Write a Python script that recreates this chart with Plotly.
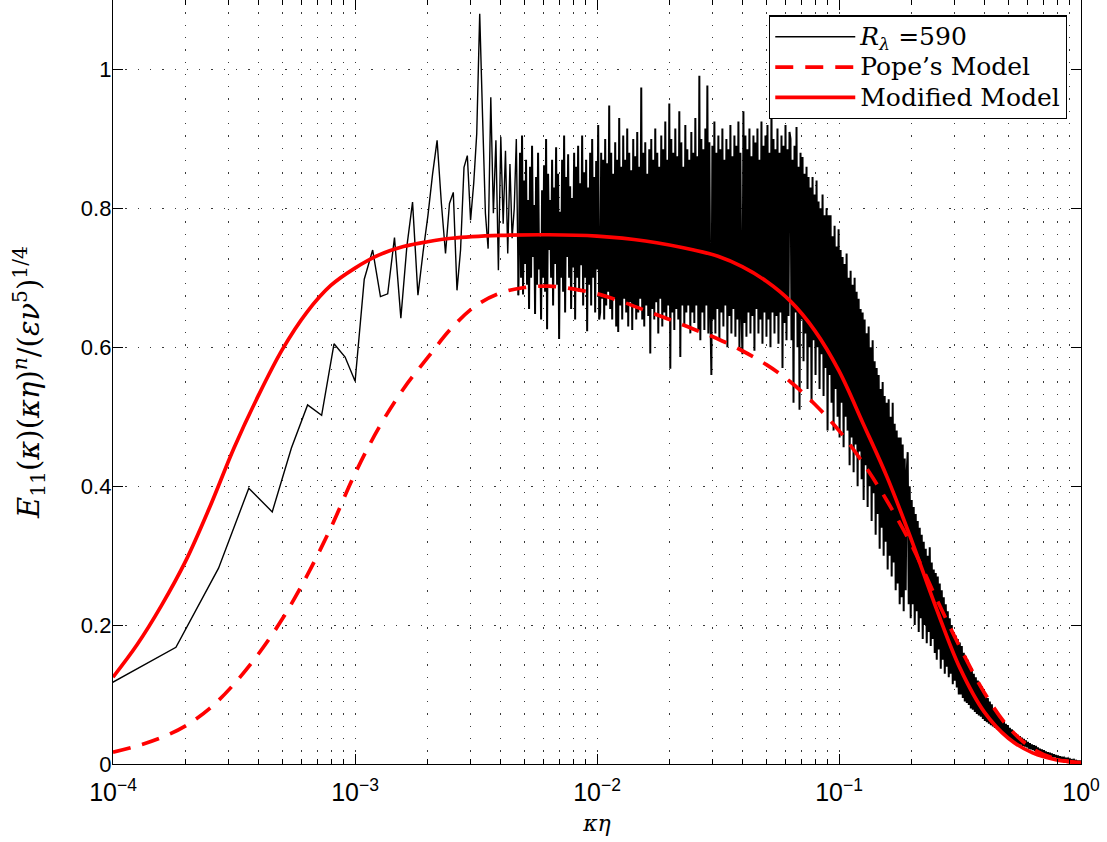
import numpy as np
import plotly.graph_objects as go

# ---------------------------------------------------------------------------
# Compensated longitudinal spectrum E11(k)(k eta)^n / (eps nu^5)^(1/4)
# ---------------------------------------------------------------------------

# DNS spectrum at R_lambda = 590: individually resolved low modes k = 1..52,
# wavenumber grid spacing in units of kappa*eta
DK_ETA = 0.91e-4
low_mode_values = [
    0.110, 0.168, 0.282, 0.397, 0.363, 0.455, 0.517, 0.502, 0.605, 0.586,
    0.551, 0.698, 0.740, 0.673, 0.677, 0.758, 0.642, 0.745, 0.809, 0.675,
    0.737, 0.790, 0.850, 0.898, 0.807, 0.735, 0.807, 0.823, 0.682, 0.740,
    0.859, 0.876, 0.783, 0.836, 0.908, 1.080, 0.931, 0.793, 0.742, 0.960,
    0.793, 0.898, 0.711, 0.903, 0.778, 0.883, 0.735, 0.864, 0.757, 0.800,
    0.900, 0.675,
]

# Higher wavenumbers, resampled on a logarithmic kappa*eta grid
# from 10^DENSE_LOG_START up to 1 (values in thousandths)
DENSE_LOG_START = -2.318
dense_values_milli = [
    # 4.8e-3 .. 1.0e-2
    880, 700, 905, 676, 840, 720, 870, 690, 812, 655,
    860, 700, 890, 730, 805, 648, 845, 690, 880, 712,
    760, 640, 826, 700, 862, 680, 900, 626, 850, 740,
    812, 700, 870, 660, 830, 720, 888, 690, 850, 612,
    795, 700, 870, 680, 905, 650, 845, 730, 878, 700,
    832, 655, 815, 715, 880, 640, 860, 700, 890, 680,
    836, 718, 905, 660, 852, 700, 870, 623, 830, 690,
    880, 660, 900, 700, 845, 650, 868, 712, 920, 640,
    # 1.0e-2 .. 2.6e-2
    650, 880, 670, 870, 640, 900, 660, 865, 680, 948,
    655, 880, 640, 850, 670, 895, 630, 870, 622, 930,
    660, 860, 640, 905, 670, 870, 650, 915, 630, 880,
    665, 855, 625, 900, 660, 875, 640, 910, 650, 860,
    670, 974, 640, 880, 630, 895, 660, 850, 645, 885,
    591, 900, 655, 870, 640, 915, 665, 880, 620, 860,
    670, 905, 630, 885, 650, 925, 640, 870, 660, 951,
    569, 900, 650, 880, 625, 915, 655, 875, 640, 940,
    586, 895, 660, 860, 630, 920, 650, 885, 660, 870,
    620, 910, 650, 880, 635, 930, 660, 875, 625, 991,
    # 2.6e-2 .. 6.2e-2
    610, 900, 650, 885, 625, 915, 660, 977, 620, 895,
    650, 560, 890, 640, 925, 620, 880, 655, 905, 610,
    885, 650, 915, 630, 870, 660, 900, 600, 885, 645,
    920, 620, 875, 655, 905, 615, 890, 640, 925, 600,
    880, 650, 590, 940, 635, 905, 615, 885, 650, 915,
    620, 875, 645, 905, 595, 895, 655, 915, 620, 870,
    640, 925, 605, 890, 650, 905, 615, 920, 640, 880,
    600, 945, 650, 900, 620, 885, 645, 915, 605, 880,
    650, 905, 570, 890, 635, 920, 610, 885, 645, 910,
    # 6.2e-2 .. 9.2e-2
    900, 610, 870, 520, 890, 650, 917, 600, 860, 510,
    880, 640, 874, 580, 850, 620, 860, 540, 845, 600,
    830, 520, 845, 610, 820, 560, 840, 600, 810, 540,
    800, 590, 820, 530, 790, 570, 800, 480, 790, 560,
    # 9.2e-2 .. 0.18
    790, 520, 760, 480, 775, 540, 745, 500, 770, 470,
    740, 520, 730, 456, 720, 500, 735, 480, 700, 430,
    710, 470, 690, 420, 700, 460, 680, 400, 670, 450,
    655, 410, 650, 380, 640, 430, 620, 370, 630, 400,
    600, 350, 610, 390, 580, 330, 570, 360, 560, 310,
    540, 340, 550, 300, 530, 320, 520, 280, 525, 300,
    500, 270, 520, 290, 490, 250, 480, 260, 470, 230,
    # 0.18 .. 0.32
    470, 240, 460, 220, 440, 250, 420, 449, 230, 400,
    210, 380, 230, 370, 200, 360, 220, 350, 190, 340,
    210, 330, 180, 320, 200, 310, 174, 300, 190, 312,
    170, 290, 180, 280, 160, 275, 150, 270, 165, 260,
    137, 250, 150, 240, 130, 230, 140, 220, 125, 210,
    130, 200, 115, 190, 120, 185, 110, 180, 100, 175,
    # 0.32 .. 1
    100, 170, 95, 160, 90, 155, 88, 150, 85, 140,
    80, 138, 78, 130, 75, 125, 72, 120, 70, 115,
    68, 112, 65, 108, 62, 100, 60, 95, 58, 90,
    56, 86, 54, 80, 52, 76, 50, 72, 48, 70,
    46, 66, 44, 62, 42, 58, 40, 56, 38, 52,
    36, 50, 34, 46, 32, 44, 30, 42, 29, 40,
    28, 38, 26, 36, 25, 34, 24, 32, 22, 30,
    21, 28, 20, 27, 19, 26, 18, 24, 17, 22,
    16, 21, 15, 20, 14, 18, 13, 17, 12, 16,
    11, 15, 10, 14, 10, 13, 9, 12, 8, 11,
    7, 10, 7, 9, 6, 8, 6, 8, 5, 7,
    5, 6, 4, 6, 4, 5, 3, 4, 3, 4, 3,
]

# Pope's model spectrum (log10 of kappa*eta, compensated value)
pope_log10_keta = [
    -4.0, -3.9, -3.8, -3.7, -3.6, -3.5, -3.4, -3.3, -3.2, -3.1,
    -3.0, -2.9, -2.8, -2.7, -2.6, -2.5, -2.4, -2.3, -2.2, -2.1,
    -2.0, -1.9, -1.8, -1.7, -1.6, -1.5, -1.4, -1.3, -1.2, -1.1,
    -1.0, -0.9, -0.8, -0.7, -0.6, -0.5, -0.4, -0.3, -0.2, -0.1,
    0.0,
]
pope_values = [
    0.017, 0.026, 0.038, 0.055, 0.080, 0.115, 0.158, 0.209, 0.270, 0.340,
    0.418, 0.485, 0.540, 0.585, 0.628, 0.660, 0.678, 0.686, 0.688, 0.684,
    0.677, 0.666, 0.653, 0.640, 0.626, 0.612, 0.595, 0.575, 0.550, 0.518,
    0.480, 0.433, 0.378, 0.315, 0.240, 0.168, 0.103, 0.053, 0.022, 0.007,
    0.001,
]

# Modified model spectrum
mod_log10_keta = [
    -4.0, -3.9, -3.8, -3.7, -3.6, -3.5, -3.4, -3.3, -3.2, -3.1,
    -3.0, -2.9, -2.8, -2.7, -2.6, -2.4, -2.2, -2.0, -1.8, -1.6,
    -1.5, -1.4, -1.3, -1.2, -1.1, -1.0, -0.9, -0.8, -0.7, -0.6,
    -0.5, -0.4, -0.3, -0.2, -0.1, 0.0,
]
mod_values = [
    0.125, 0.172, 0.228, 0.292, 0.370, 0.455, 0.530, 0.597, 0.650, 0.689,
    0.714, 0.733, 0.745, 0.752, 0.757, 0.761, 0.762, 0.760, 0.753, 0.740,
    0.731, 0.716, 0.695, 0.666, 0.624, 0.566, 0.490, 0.412, 0.322, 0.226,
    0.138, 0.075, 0.037, 0.016, 0.006, 0.002,
]

# Axis ticks
x_major = [1e-4, 1e-3, 1e-2, 1e-1, 1.0]
x_major_text = ["10<sup>\u22124</sup>", "10<sup>\u22123</sup>", "10<sup>\u22122</sup>",
                "10<sup>\u22121</sup>", "10<sup>0</sup>"]
x_minor = [m * d for d in (1e-4, 1e-3, 1e-2, 1e-1) for m in range(2, 10)]
y_major = [0, 0.2, 0.4, 0.6, 0.8, 1.0]
y_major_text = ["0", "0.2", "0.4", "0.6", "0.8", "1"]

# ---------------------------------------------------------------------------
low_x = np.arange(1, len(low_mode_values) + 1) * DK_ETA
low_y = np.array(low_mode_values)
# dense part starts from the last resolved mode so the curve stays connected
dense_x = np.concatenate([low_x[-1:], np.logspace(DENSE_LOG_START, 0.0, len(dense_values_milli))])
dense_y = np.concatenate([low_y[-1:], np.array(dense_values_milli) / 1000.0])

SERIF = "DejaVu Serif"
SANS = "Liberation Sans"
GRID = dict(gridcolor="#3a3a3a", gridwidth=1.3, griddash="1.3px,11px")


def legend_label(text):
    return '<span style="font-size:25px">' + text + "</span>"


fig = go.Figure()
fig.add_trace(go.Scatter(
    x=low_x, y=low_y, mode="lines", legendgroup="dns",
    name=legend_label("<i>R</i><sub><i>\u03bb</i></sub> =590"),
    line=dict(color="black", width=1.4, simplify=False),
))
fig.add_trace(go.Scatter(
    x=dense_x, y=dense_y, mode="lines", legendgroup="dns", showlegend=False,
    name="R_lambda = 590 (dense)",
    line=dict(color="black", width=2.0, simplify=False),
))
fig.add_trace(go.Scatter(
    x=10 ** np.array(pope_log10_keta), y=pope_values, mode="lines",
    name=legend_label("Pope\u2019s Model"),
    line=dict(color="#ff0000", width=3.7, dash="18px,12px", shape="spline"),
))
fig.add_trace(go.Scatter(
    x=10 ** np.array(mod_log10_keta), y=mod_values, mode="lines",
    name=legend_label("Modified Model"),
    line=dict(color="#ff0000", width=3.7, shape="spline"),
))

fig.update_xaxes(
    type="log", range=[-4, 0],
    tickmode="array", tickvals=x_major, ticktext=x_major_text,
    ticks="inside", ticklen=10, tickwidth=1, tickcolor="black",
    showline=True, linecolor="black", linewidth=1.3, mirror="allticks",
    showgrid=True, **GRID,
    minor=dict(tickmode="array", tickvals=x_minor, ticks="inside", ticklen=5,
               tickcolor="black", showgrid=True, **GRID),
    tickfont=dict(family=SANS, size=25, color="black"),
    ticklabelstandoff=6,
    title=dict(text="<i>\u03ba\u03b7</i>", font=dict(family=SERIF, size=22, color="black"),
               standoff=10),
    zeroline=False,
)
fig.update_yaxes(
    range=[0, 1.1],
    tickmode="array", tickvals=y_major, ticktext=y_major_text,
    ticks="inside", ticklen=10, tickwidth=1, tickcolor="black",
    showline=True, linecolor="black", linewidth=1.3, mirror="allticks",
    showgrid=True, **GRID,
    tickfont=dict(family=SANS, size=22, color="black"),
    ticklabelstandoff=-4,
    title=dict(
        text="<i>E</i><sub>11</sub>(<i>\u03ba</i>)(<i>\u03ba\u03b7</i>)<sup><i>n</i></sup>"
             "/(<i>\u03b5\u03bd</i><sup>5</sup>)<sup>1/4</sup>",
        font=dict(family=SERIF, size=29, color="black"), standoff=32),
    zeroline=False,
)

fig.update_layout(
    width=1107, height=842,
    margin=dict(l=113, r=26, t=0, b=78),
    paper_bgcolor="white", plot_bgcolor="white",
    showlegend=True,
    legend=dict(
        x=0.9855, y=0.98, xanchor="right", yanchor="top",
        bgcolor="white", bordercolor="black", borderwidth=1.3,
        font=dict(family=SERIF, size=21, color="black"),
        itemwidth=80, tracegroupgap=0,
    ),
)

fig.write_html("out.html")
